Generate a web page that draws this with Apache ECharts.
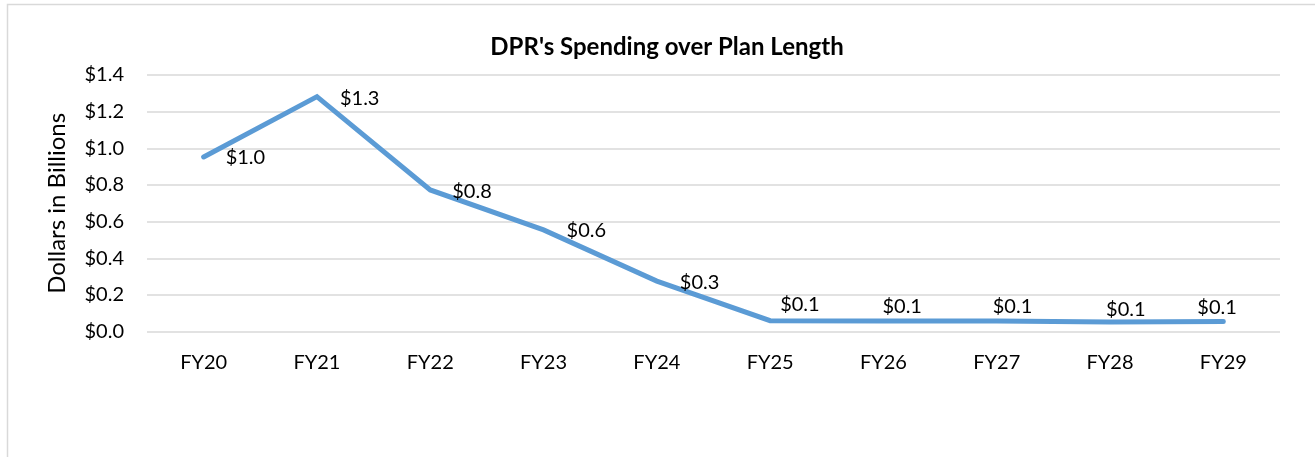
<!DOCTYPE html>
<html>
<head>
<meta charset="utf-8">
<script src="https://cdn.jsdelivr.net/npm/echarts/dist/echarts.min.js"></script>
<style>
  html, body { margin: 0; padding: 0; background: #fff; }
  #chart { width: 1315px; height: 457px; }
</style>
</head>
<body>
<div id="chart"></div>
<script>
const categories = ['FY20', 'FY21', 'FY22', 'FY23', 'FY24', 'FY25', 'FY26', 'FY27', 'FY28', 'FY29'];
const spending = [0.953, 1.282, 0.773, 0.555, 0.276, 0.060, 0.058, 0.058, 0.053, 0.055];
const yTicks = [0, 0.2, 0.4, 0.6, 0.8, 1.0, 1.2, 1.4];

// where each data label sits relative to its point (Excel moved a few by hand)
const labelShift = [[22, 1], [23, 2], [22, 2], [23, 1], [23, 1], [10, -16], [-1, -15], [-4, -15], [-4, -12], [-26, -14]];

const font = 'Lato, "Open Sans", sans-serif';
const chart = echarts.init(document.getElementById('chart'));

chart.setOption({
  animation: false,
  graphic: [{
    type: 'rect',
    shape: { x: 7.5, y: 4.5, width: 1330, height: 480 },
    style: { fill: 'none', stroke: '#d9d9d9', lineWidth: 1.5 },
    silent: true
  }],
  title: {
    text: "DPR's Spending over Plan Length",
    left: 662,
    textAlign: 'center',
    top: 30,
    textStyle: { fontFamily: font, fontSize: 24, fontWeight: 'bold', color: '#000' }
  },
  grid: { left: 147, right: 35, top: 75, bottom: 125.3 },
  xAxis: {
    type: 'category',
    data: categories,
    boundaryGap: true,
    axisLine: { show: false },
    axisTick: { show: false },
    axisLabel: { margin: 21, fontFamily: font, fontSize: 20, color: '#000' }
  },
  yAxis: {
    type: 'value',
    min: yTicks[0],
    max: yTicks[yTicks.length - 1],
    interval: 0.2,
    name: 'Dollars in Billions',
    nameLocation: 'middle',
    nameRotate: 90,
    nameGap: 78,
    nameTextStyle: { fontFamily: font, fontSize: 24, color: '#000' },
    axisLine: { show: false },
    axisTick: { show: false },
    splitLine: { lineStyle: { color: '#d9d9d9', width: 1.5 } },
    axisLabel: {
      margin: 23,
      fontFamily: font,
      fontSize: 20,
      color: '#000',
      formatter: v => '$' + v.toFixed(1)
    }
  },
  series: [{
    type: 'line',
    data: spending.map((v, i) => ({
      value: v,
      label: { offset: labelShift[i] }
    })),
    showSymbol: true,
    symbol: 'circle',
    symbolSize: 0,
    lineStyle: { color: '#5b9bd5', width: 5, cap: 'round', join: 'miter' },
    itemStyle: { color: '#5b9bd5' },
    label: {
      show: true,
      position: 'right',
      distance: 0,
      fontFamily: font,
      fontSize: 20,
      color: '#000',
      formatter: p => '$' + p.value.toFixed(1)
    }
  }]
});
</script>
</body>
</html>
